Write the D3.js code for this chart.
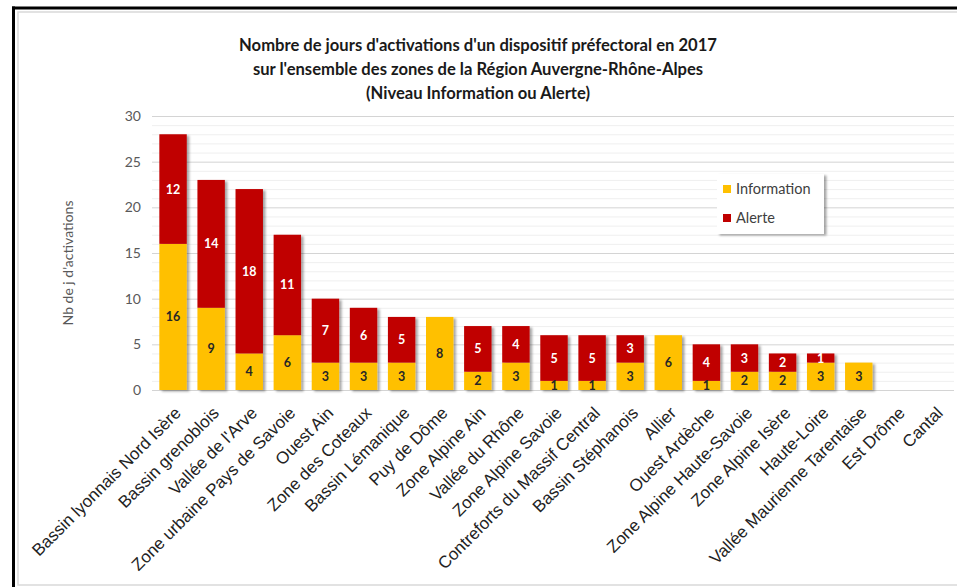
<!DOCTYPE html>
<html>
<head>
<meta charset="utf-8">
<script src="https://cdn.jsdelivr.net/npm/d3@7/dist/d3.min.js"></script>
<style>
  html, body { margin: 0; padding: 0; background: #ffffff; }
  svg { display: block; }
</style>
</head>
<body>
<script>
const categories = [
  "Bassin lyonnais Nord Isère", "Bassin grenoblois", "Vallée de l'Arve",
  "Zone urbaine Pays de Savoie", "Ouest Ain", "Zone des Coteaux",
  "Bassin Lémanique", "Puy de Dôme", "Zone Alpine Ain", "Vallée du Rhône",
  "Zone Alpine Savoie", "Contreforts du Massif Central", "Bassin Stéphanois",
  "Allier", "Ouest Ardèche", "Zone Alpine Haute-Savoie", "Zone Alpine Isère",
  "Haute-Loire", "Vallée Maurienne Tarentaise", "Est Drôme", "Cantal"
];
const information = [16, 9, 4, 6, 3, 3, 3, 8, 2, 3, 1, 1, 3, 6, 1, 2, 2, 3, 3, 0, 0];
const alerte      = [12, 14, 18, 11, 7, 6, 5, 0, 5, 4, 5, 5, 3, 0, 4, 3, 2, 1, 0, 0, 0];
const seriesNames = ["Information", "Alerte"];
const seriesColors = ["#FFC000", "#C00000"];
const yTicks = [0, 5, 10, 15, 20, 25, 30];
const titleLines = [
  "Nombre de jours d'activations d'un dispositif préfectoral en 2017",
  "sur l'ensemble des zones de la Région Auvergne-Rhône-Alpes",
  "(Niveau Information ou Alerte)"
];
const yAxisTitle = "Nb de j d'activations";

const W = 957, H = 587;
const svg = d3.select("body").append("svg").attr("width", W).attr("height", H);

const defs = svg.append("defs");
const f = defs.append("filter").attr("id", "shadow")
  .attr("x", "-20%").attr("y", "-20%").attr("width", "150%").attr("height", "150%");
f.append("feDropShadow").attr("dx", 2.5).attr("dy", 1.5).attr("stdDeviation", 1.3)
  .attr("flood-color", "#000").attr("flood-opacity", 0.35);

// frames
svg.append("rect").attr("x", 18).attr("y", 12).attr("width", 945).attr("height", 573)
  .attr("fill", "#fff").attr("stroke", "#d9d9d9").attr("stroke-width", 1.5);
svg.append("line").attr("x1", 13.5).attr("x2", 13.5).attr("y1", 6.5).attr("y2", H)
  .attr("stroke", "#000").attr("stroke-width", 3);
svg.append("line").attr("x1", 12).attr("x2", W).attr("y1", 8).attr("y2", 8)
  .attr("stroke", "#000").attr("stroke-width", 3);

const x = d3.scaleBand().domain(categories).range([154, 954])
  .paddingInner(0.28).paddingOuter(0.14);
const y = d3.scaleLinear().domain([0, 30]).range([390, 116]);

// gridlines
const g = svg.append("g");
g.selectAll("line.minor").data(d3.range(0, 31)).join("line")
  .attr("x1", 152).attr("x2", 954)
  .attr("y1", d => y(d) + 0.5).attr("y2", d => y(d) + 0.5)
  .attr("stroke", d => d % 5 === 0 ? "#d4d4d4" : "#efefef")
  .attr("stroke-width", 1);

// y axis labels
const yAxis = d3.axisLeft(y).tickValues(yTicks).tickSize(0).tickPadding(0);
const ya = svg.append("g").attr("transform", "translate(141,0)").call(yAxis);
ya.select(".domain").remove();
ya.selectAll("text").attr("font-family", "Lato, sans-serif").attr("font-size", 14)
  .attr("fill", "#595959");

// y axis title
svg.append("text")
  .attr("transform", "translate(73,263) rotate(-90)")
  .attr("text-anchor", "middle")
  .attr("font-family", "Lato, sans-serif").attr("font-size", 14)
  .attr("fill", "#595959").text(yAxisTitle);

// stacked data
const rows = categories.map((c, i) => ({ cat: c, Information: information[i], Alerte: alerte[i] }));
const stacked = d3.stack().keys(seriesNames)(rows);

const bars = svg.append("g").attr("filter", "url(#shadow)");
stacked.forEach((layer, li) => {
  bars.selectAll(null).data(layer.filter(d => d[1] > d[0])).join("rect")
    .attr("x", d => x(d.data.cat))
    .attr("width", x.bandwidth())
    .attr("y", d => y(d[1]))
    .attr("height", d => y(d[0]) - y(d[1]))
    .attr("fill", seriesColors[li]);
});

// value labels
stacked.forEach((layer, li) => {
  svg.append("g").selectAll("text").data(layer.filter(d => d[1] > d[0])).join("text")
    .attr("x", d => x(d.data.cat) + x.bandwidth() / 2)
    .attr("y", d => (y(d[0]) + y(d[1])) / 2)
    .attr("dy", "0.36em")
    .attr("text-anchor", "middle")
    .attr("font-family", "Lato, sans-serif").attr("font-weight", "bold")
    .attr("font-size", 12.5)
    .attr("fill", li === 0 ? "#262626" : "#ffffff")
    .text(d => d[1] - d[0]);
});

// x labels
const xl = svg.append("g");
xl.selectAll("text").data(categories).join("text")
  .attr("transform", d => `translate(${x(d) + x.bandwidth() / 2 + 9},414) rotate(-45)`)
  .attr("text-anchor", "end")
  .attr("font-family", "'Liberation Sans', Arial, sans-serif")
  .attr("font-size", 17)
  .attr("fill", "#222")
  .text(d => d);

// title
svg.append("g").selectAll("text").data(titleLines).join("text")
  .attr("x", 478).attr("y", (d, i) => 51 + i * 24)
  .attr("text-anchor", "middle")
  .attr("font-family", "Lato, sans-serif").attr("font-weight", "bold")
  .attr("font-size", 16.6).attr("fill", "#1a1a1a")
  .text(d => d);

// legend
const lg = svg.append("g");
lg.append("rect").attr("x", 717).attr("y", 174).attr("width", 107).attr("height", 60)
  .attr("fill", "#fff").attr("filter", "url(#shadow)");
seriesNames.forEach((s, i) => {
  lg.append("rect").attr("x", 723).attr("y", 185 + i * 29).attr("width", 8).attr("height", 8)
    .attr("fill", seriesColors[i]);
  lg.append("text").attr("x", 736).attr("y", 194 + i * 29)
    .attr("font-family", "Lato, sans-serif").attr("font-size", 14.5)
    .attr("fill", "#404040").text(s);
});
</script>
</body>
</html>
